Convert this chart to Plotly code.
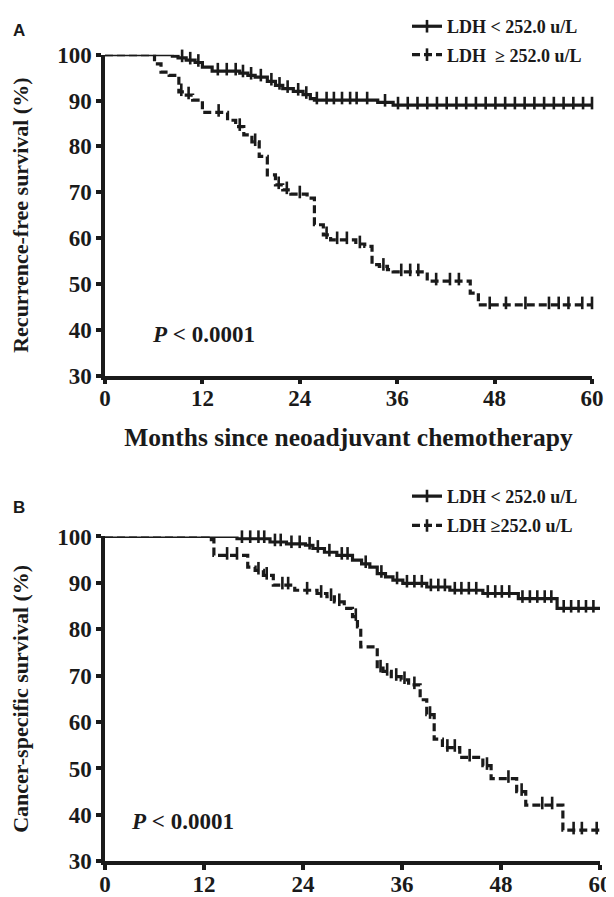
import numpy as np
import plotly.graph_objects as go

# ---------------- data ----------------
x_ticks = [0, 12, 24, 36, 48, 60]
y_ticks = [30, 40, 50, 60, 70, 80, 90, 100]
x_max = 60

# Panel A: recurrence-free survival
a_low_t = [8.3, 9.0, 10.0, 11.1, 12.0, 13.2, 16.6, 17.6, 18.5, 20.0, 21.0, 21.9, 23.2,
           24.4, 25.3, 25.8, 33.6, 35.5]
a_low_s = [99.7, 99.3, 98.8, 98.3, 97.3, 96.4, 96.0, 95.5, 95.1, 94.2, 93.3, 92.6, 92.0,
           91.3, 90.4, 90.1, 89.6, 89.0]
a_low_cens = [4.2, 5.4, 6.2, 6.9, 7.6, 9.5, 10.5, 11.5, 13.9, 15.0, 16.1, 17.0, 18.0, 19.2,
              20.5, 21.5, 22.5, 23.8, 24.8, 26.1, 27.3, 28.2, 29.2, 30.2, 31.0, 32.3, 34.5,
              36.1, 37.3, 38.5, 39.7, 40.9, 42.1, 43.3, 44.5, 45.7, 46.9, 48.1, 49.3, 50.5,
              51.7, 52.9, 54.1, 55.3, 56.5, 57.7, 58.9, 60.0]

a_high_t = [6.1, 6.9, 7.9, 9.1, 9.8, 10.8, 12.0, 15.1, 16.1, 17.1, 18.1, 19.0, 20.0, 21.0,
            21.9, 22.9, 24.9, 25.8, 26.9, 27.8, 30.9, 32.0, 32.9, 33.8, 34.8, 35.5, 39.7,
            45.0, 46.0]
a_high_s = [98.0, 96.2, 95.5, 91.9, 91.2, 90.1, 87.4, 85.7, 84.3, 82.5, 81.0, 77.8, 73.8,
            71.6, 70.5, 69.6, 68.7, 62.9, 60.7, 59.6, 58.7, 58.2, 54.2, 53.8, 53.1, 52.6,
            50.6, 48.0, 45.4]
a_high_cens = [6.0, 9.4, 10.3, 14.0, 16.6, 18.5, 21.4, 22.4, 24.0, 27.3, 28.6, 29.8, 31.4,
               34.3, 36.5, 37.6, 38.6, 40.8, 42.5, 43.6, 47.4, 49.4, 51.8, 54.7, 55.9,
               57.1, 58.8, 60.0]

# Panel B: cancer-specific survival
b_low_t = [16.0, 20.0, 22.0, 24.3, 25.2, 26.6, 28.1, 30.0, 31.1, 32.1, 33.0, 34.0, 34.9,
           36.1, 39.0, 41.8, 45.8, 50.1, 54.8]
b_low_s = [99.5, 98.8, 98.4, 98.1, 97.4, 96.6, 95.9, 94.9, 94.1, 93.4, 92.0, 91.3, 90.6,
           89.9, 89.1, 88.4, 87.7, 86.6, 84.5]
b_low_cens = [4.3, 5.2, 5.9, 6.6, 7.5, 8.4, 9.3, 10.2, 11.0, 12.0, 13.0, 14.3, 16.6, 17.6,
              18.6, 19.3, 20.6, 21.3, 22.6, 23.6, 24.8, 25.8, 27.2, 28.7, 29.4, 31.6, 33.5,
              35.4, 36.6, 37.5, 38.4, 39.5, 40.4, 41.2, 42.4, 43.2, 44.1, 45.0, 46.4, 47.3,
              48.1, 49.0, 50.6, 51.5, 52.4, 53.3, 54.1, 55.6, 56.5, 57.4, 58.3, 59.2]

b_high_t = [12.5, 13.2, 17.3, 18.2, 19.2, 20.4, 23.0, 25.7, 26.9, 27.8, 29.0, 30.0, 30.6,
            31.0, 33.0, 33.7, 34.7, 35.9, 36.8, 38.2, 39.0, 39.9, 40.9, 43.0, 45.8, 46.8,
            49.9, 51.0, 55.5]
b_high_s = [99.3, 95.9, 93.4, 92.7, 91.6, 89.5, 88.4, 87.7, 87.0, 85.9, 84.5, 82.7, 80.5,
            76.2, 71.6, 70.9, 69.8, 69.1, 68.0, 64.8, 61.6, 56.3, 54.5, 52.4, 50.6, 47.8,
            45.0, 42.1, 36.7]
b_high_cens = [14.8, 16.0, 18.6, 19.6, 21.5, 22.2, 24.5, 26.2, 27.4, 28.4, 30.4, 33.4,
               34.2, 35.3, 36.3, 37.5, 39.4, 41.5, 42.4, 44.2, 46.3, 48.9, 50.5, 53.0,
               54.2, 56.8, 57.8, 59.6]

legend_a = ["LDH &lt; 252.0 u/L", "LDH \u00a0\u2265 252.0 u/L"]
legend_b = ["LDH &lt; 252.0 u/L", "LDH \u2265252.0 u/L"]
y_title_a = "Recurrence-free survival (%)"
y_title_b = "Cancer-specific survival (%)"
x_title = "Months since neoadjuvant chemotherapy"
p_text = "<i>P</i> &lt; 0.0001"

# ---------------- style ----------------
SERIF = "Liberation Serif, Times New Roman, serif"
SANS = "Liberation Sans, Arial, sans-serif"
BLACK = "#1a1a1a"
LW = 3.2
DASH = "8px,4px"
TICK_UP = 0.45  # censor ticks sit slightly above the curve

# page is rendered with the default 8px body margin
OFF = 8
W, H = 614 - OFF, 897 - OFF


def xf(px):
    return (px - OFF) / W


def yf(py):
    return 1 - (py - OFF) / H


def step_xy(t, s):
    return [0] + list(t) + [x_max], [100] + list(s) + [s[-1]]


def censor_y(t, s, tc):
    idx = np.searchsorted(np.array(t), np.array(tc), side="right")
    full = np.array([100] + list(s))
    return full[idx] + TICK_UP


fig = go.Figure()


def add_group(t, s, cens, xa, ya, dash, name, legend):
    x, y = step_xy(t, s)
    fig.add_trace(go.Scatter(x=x, y=y, mode="lines", line=dict(color=BLACK, width=LW, dash=dash, shape="hv"),
                             xaxis=xa, yaxis=ya, showlegend=False, cliponaxis=False, hoverinfo="skip"))
    fig.add_trace(go.Scatter(x=cens, y=censor_y(t, s, cens), mode="markers",
                             marker=dict(symbol="line-ns", size=9, line=dict(color=BLACK, width=2.6)),
                             xaxis=xa, yaxis=ya, showlegend=False, cliponaxis=False, hoverinfo="skip"))
    fig.add_trace(go.Scatter(x=[None], y=[None], mode="lines+markers", name=name,
                             line=dict(color=BLACK, width=LW, dash=dash),
                             marker=dict(symbol="line-ns", size=9, line=dict(color=BLACK, width=2.6)),
                             xaxis=xa, yaxis=ya, legend=legend, legendgroup=name + legend))


add_group(a_low_t, a_low_s, a_low_cens, "x", "y", "solid", legend_a[0], "legend")
add_group(a_high_t, a_high_s, a_high_cens, "x", "y", DASH, legend_a[1], "legend")
add_group(b_low_t, b_low_s, b_low_cens, "x2", "y2", "solid", legend_b[0], "legend2")
add_group(b_high_t, b_high_s, b_high_cens, "x2", "y2", DASH, legend_b[1], "legend2")

tickfont = dict(family=SERIF, size=23, color=BLACK, weight="bold")
ytitlefont = dict(family=SERIF, size=22, color=BLACK, weight="bold")
xtitlefont = dict(family=SERIF, size=25.5, color=BLACK, weight="bold")
legfont = dict(family=SERIF, size=18, color=BLACK, weight="bold")

xcommon = dict(range=[0, x_max], tickvals=x_ticks, showline=True, linewidth=3.5, linecolor=BLACK,
               ticks="outside", ticklen=5, tickwidth=3.5, tickcolor=BLACK, tickfont=tickfont,
               ticklabelstandoff=-6, showgrid=False, zeroline=False, automargin=False)
ycommon = dict(range=[30, 100], tickvals=y_ticks, showline=True, linewidth=3.5, linecolor=BLACK,
               ticks="outside", ticklen=5, tickwidth=3.5, tickcolor=BLACK, tickfont=tickfont,
               ticklabelstandoff=0, showgrid=False, zeroline=False, automargin=False)

fig.update_layout(
    width=W, height=H, margin=dict(l=0, r=0, t=0, b=0),
    paper_bgcolor="white", plot_bgcolor="white", showlegend=True,
    xaxis=dict(domain=[xf(105), xf(592)], anchor="y",
               title=dict(text=x_title, font=xtitlefont, standoff=19), **xcommon),
    yaxis=dict(domain=[yf(372), yf(49)], anchor="x",
               title=dict(text=y_title_a, font=ytitlefont, standoff=25), **ycommon),
    xaxis2=dict(domain=[xf(105), xf(600)], anchor="y2", **xcommon),
    yaxis2=dict(domain=[yf(861), yf(534)], anchor="x2",
                title=dict(text=y_title_b, font=ytitlefont, standoff=25), **ycommon),
    legend=dict(x=xf(407), y=yf(2), xanchor="left", yanchor="top", bgcolor="rgba(0,0,0,0)",
                font=legfont, tracegroupgap=2, itemwidth=30),
    legend2=dict(x=xf(407), y=yf(475), xanchor="left", yanchor="top", bgcolor="rgba(0,0,0,0)",
                 font=legfont, tracegroupgap=3, itemwidth=30),
    annotations=[
        dict(text="A", x=xf(11), y=yf(25), xref="paper", yref="paper", showarrow=False,
             xanchor="left", yanchor="middle", font=dict(family=SANS, size=17, color=BLACK, weight="bold")),
        dict(text="B", x=xf(11), y=yf(505), xref="paper", yref="paper", showarrow=False,
             xanchor="left", yanchor="middle", font=dict(family=SANS, size=17, color=BLACK, weight="bold")),
        dict(text=p_text, x=5.5, y=39.0, xref="x", yref="y", showarrow=False, xanchor="left",
             font=dict(family=SERIF, size=23, color=BLACK, weight="bold")),
        dict(text=p_text, x=2.9, y=38.5, xref="x2", yref="y2", showarrow=False, xanchor="left",
             font=dict(family=SERIF, size=23, color=BLACK, weight="bold")),
    ],
)

fig.write_html("out.html")
